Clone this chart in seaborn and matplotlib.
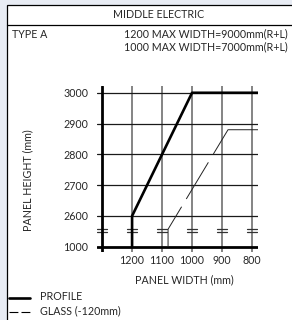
import numpy as np
import pandas as pd
import matplotlib
matplotlib.use("Agg")
import matplotlib.pyplot as plt
from matplotlib.patches import Rectangle
from matplotlib.lines import Line2D
import seaborn as sns

sns.set_theme(style="white")
plt.rcParams['font.family'] = ['Lato', 'DejaVu Sans']

# ---- data ----
title = "MIDDLE ELECTRIC"
type_label = "TYPE A"
notes = ["1200 MAX WIDTH=9000mm(R+L)", "1000 MAX WIDTH=7000mm(R+L)"]
width_ticks = [1200, 1100, 1000, 900, 800]
height_ticks = [1000, 2600, 2700, 2800, 2900, 3000]
profile_width = [1200, 1200, 1000, 780]
profile_height = [1000, 2600, 3000, 3000]
glass_width = [780, 880, 1080, 1080]
glass_height = [2880, 2880, 2480, 1000]
legend_labels = ["PROFILE", "GLASS (-120mm)"]

W, H = 292, 320
fig = plt.figure(figsize=(W / 100, H / 100), dpi=100)
fig.patch.set_facecolor('#e8ecf4')

def fx(x):
    return x / W

def fy(y):
    return 1 - y / H

# white frame
fig.patches.append(Rectangle((fx(7), -0.01), 1.0, fy(4.5) + 0.01, transform=fig.transFigure,
                             facecolor='white', edgecolor='black', lw=0.9, zorder=-5))
fig.lines.append(Line2D([fx(7), 1], [fy(24.5), fy(24.5)], transform=fig.transFigure,
                        color='black', lw=0.9, zorder=-4))

fs = 7.7
fig.text(fx(159), fy(15), title, ha='center', va='center', fontsize=fs)
fig.text(fx(12), fy(34), type_label, ha='left', va='center', fontsize=fs)
fig.text(fx(288), fy(34), notes[0], ha='right', va='center', fontsize=fs)
fig.text(fx(288), fy(46.5), notes[1], ha='right', va='center', fontsize=fs)

# axes
left, right, top, bottom = 96.7, 258, 86, 252
ax = fig.add_axes([fx(left), fy(bottom), (right - left) / W, (bottom - top) / H])
ax.set_zorder(2)
ax.set_facecolor('none')
for s in ax.spines.values():
    s.set_visible(False)

# broken y axis: 1000..2560 compressed into 2500..2560
def fwd(h):
    return np.interp(h, [0, 1000, 2560, 5000], [1500, 2500, 2560, 5000])

def inv(p):
    return np.interp(p, [1500, 2500, 2560, 5000], [0, 1000, 2560, 5000])

ax.set_yscale('function', functions=(fwd, inv))
ax.set_xlim(1318, 780)
ax.set_ylim(inv(2483), 3022)

# grid
for w in width_ticks:
    ax.axvline(w, color='#707070', lw=1.2, zorder=1)
for h in height_ticks[1:]:
    ax.axhline(h, color='#1a1a1a', lw=0.9, zorder=1)
ax.axhline(height_ticks[0], color='black', lw=2.0, zorder=3)
ax.axvline(1300, color='black', lw=2.0, zorder=3)

# break marks
for w in [1300] + width_ticks:
    for p in (2547, 2557):
        ax.plot([w - 17, w + 17], [inv(p), inv(p)], color='#333333', lw=0.9, zorder=2)

df_p = pd.DataFrame({'w': profile_width, 'h': profile_height})
df_g = pd.DataFrame({'w': glass_width, 'h': glass_height})
sns.lineplot(data=df_p, x='w', y='h', sort=False, estimator=None, color='black', lw=1.9, ax=ax, zorder=4)
sns.lineplot(data=df_g, x='w', y='h', sort=False, estimator=None, color='#222222', lw=0.7, ax=ax, zorder=4)
ax.lines[-1].set_dashes([60, 10, 44, 9.3])

ax.set_xticks(width_ticks)
ax.set_xticklabels([str(v) for v in width_ticks], fontsize=fs)
ax.set_yticks(height_ticks)
ax.set_yticklabels([str(v) for v in height_ticks], fontsize=fs)
ax.yaxis.set_minor_locator(matplotlib.ticker.NullLocator())
ax.tick_params(axis='both', length=0, pad=2)
ax.tick_params(axis='y', pad=6)
ax.set_xlabel("")
ax.set_ylabel("")

fig.text(fx(184), fy(280), "PANEL WIDTH (mm)", ha='center', va='center', fontsize=fs)
fig.text(fx(28), fy(180), "PANEL HEIGHT (mm)", ha='center', va='center', rotation=90, fontsize=fs)

# legend
fig.lines.append(Line2D([fx(9), fx(30)], [fy(298), fy(298)], transform=fig.transFigure, color='black', lw=1.9))
fig.lines.append(Line2D([fx(9), fx(30)], [fy(312), fy(312)], transform=fig.transFigure, color='black', lw=0.8,
                        dashes=[8, 2.8]))
fig.text(fx(40), fy(297), legend_labels[0], ha='left', va='center', fontsize=fs)
fig.text(fx(40), fy(311), legend_labels[1], ha='left', va='center', fontsize=fs)

fig.savefig("out.png", dpi=100, facecolor=fig.get_facecolor())
